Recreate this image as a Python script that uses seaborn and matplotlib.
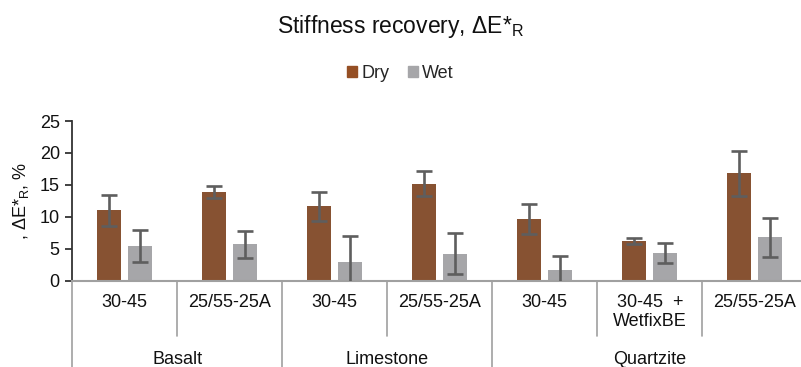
"""Stiffness recovery (dE*_R) for dry and wet specimens, grouped by aggregate type."""

import matplotlib.pyplot as plt
import matplotlib.transforms as mtransforms
import pandas as pd
import seaborn as sns

GROUPS = ["Basalt", "Basalt", "Limestone", "Limestone", "Quartzite", "Quartzite", "Quartzite"]
MIXES = ["30-45", "25/55-25A", "30-45", "25/55-25A", "30-45", "30-45  +\nWetfixBE", "25/55-25A"]
DRY_MEAN = [11.0, 13.9, 11.6, 15.2, 9.6, 6.2, 16.8]
DRY_ERR = [2.4, 0.95, 2.3, 2.0, 2.35, 0.45, 3.5]
WET_MEAN = [5.4, 5.7, 2.9, 4.2, 1.6, 4.3, 6.8]
WET_ERR = [2.5, 2.1, 4.1, 3.25, 2.2, 1.5, 3.05]
CONDITIONS = ["Dry", "Wet"]

COLORS = {"Dry": "#954F24", "Wet": "#A6A6A9"}
ERR_COLOR = "#5E5E5E"
SEP_COLOR = "#A0A0A0"
TEXT_COLOR = "#111111"
FONT_SIZE = 13


def build_frame():
    keys = [f"{g}|{m}" for g, m in zip(GROUPS, MIXES)]
    rows = []
    for cond, means in zip(CONDITIONS, [DRY_MEAN, WET_MEAN]):
        for k, v in zip(keys, means):
            rows.append({"key": k, "condition": cond, "value": v})
    return pd.DataFrame(rows), keys


def main():
    sns.set_theme(style="white")
    plt.rcParams["font.family"] = ["Liberation Sans", "DejaVu Sans"]
    plt.rcParams["mathtext.fontset"] = "custom"
    plt.rcParams["mathtext.rm"] = "Liberation Sans"

    df, keys = build_frame()

    W, H = 801, 367
    fig = plt.figure(figsize=(W / 100, H / 100), dpi=100)
    left, right, top, bottom = 72.3, 807.3, 121.0, 280.5
    ax = fig.add_axes([left / W, (H - bottom) / H, (right - left) / W, (bottom - top) / H])

    sns.barplot(
        data=df, x="key", y="value", hue="condition", order=keys, hue_order=CONDITIONS,
        palette=COLORS, width=0.59, gap=0.22, errorbar=None, legend=False, linewidth=0, ax=ax,
    )

    # error bars on top of each bar, one container per condition
    for container, errs in zip(ax.containers, [DRY_ERR, WET_ERR]):
        for bar, e in zip(container, errs):
            ax.errorbar(
                bar.get_x() + bar.get_width() / 2, bar.get_height(), yerr=e,
                fmt="none", ecolor=ERR_COLOR, elinewidth=1.9, capsize=5.8, capthick=1.9, zorder=3,
            )

    ax.set_ylim(0, 25)
    ax.set_yticks([0, 5, 10, 15, 20, 25])
    ax.set_xlim(-0.5, len(keys) - 0.5)
    ax.set_xticks([])
    ax.set_xlabel("")
    ax.set_ylabel(", ΔE*$_\\mathregular{R}$, %", fontsize=FONT_SIZE, labelpad=6, color=TEXT_COLOR)

    for side in ["top", "right"]:
        ax.spines[side].set_visible(False)
    ax.spines["left"].set_color("#333333")
    ax.spines["left"].set_linewidth(1.3)
    ax.spines["bottom"].set_color(SEP_COLOR)
    ax.spines["bottom"].set_linewidth(1.5)
    ax.tick_params(axis="y", left=True, length=5, width=1.3, color="#333333",
                   labelsize=FONT_SIZE, labelcolor=TEXT_COLOR, pad=4)

    # multi-level category axis drawn below the plot
    trans = mtransforms.blended_transform_factory(ax.transData, ax.transAxes)
    ax_h = bottom - top
    inner_end = -(336 - bottom) / ax_h
    outer_end = -(H + 5 - bottom) / ax_h
    row1_y = -(294 - bottom) / ax_h
    group_y = -(359 - bottom) / ax_h

    for i, mix in enumerate(MIXES):
        ax.text(i, row1_y, mix, transform=trans, ha="center", va="top",
                fontsize=FONT_SIZE, color=TEXT_COLOR, linespacing=1.15)

    for i in range(len(keys) + 1):
        x = i - 0.5
        new_group = i == 0 or i == len(keys) or GROUPS[i] != GROUPS[i - 1]
        y_end = outer_end if new_group else inner_end
        ax.plot([x, x], [0, y_end], transform=trans, color=SEP_COLOR, lw=1.2, clip_on=False)

    seen = []
    for g in GROUPS:
        if g not in seen:
            seen.append(g)
    for g in seen:
        idx = [i for i, gg in enumerate(GROUPS) if gg == g]
        ax.text((idx[0] + idx[-1]) / 2, group_y, g, transform=trans, ha="center", va="center",
                fontsize=FONT_SIZE, color=TEXT_COLOR)

    fig.text(0.5, 1 - 27 / H, "Stiffness recovery, ΔE*$_\\mathregular{R}$", ha="center", va="center",
             fontsize=16.5, color=TEXT_COLOR)

    handles = [plt.Rectangle((0, 0), 1, 1, color=COLORS[c]) for c in CONDITIONS]
    fig.legend(handles, CONDITIONS, loc="center", bbox_to_anchor=(0.5, 1 - 73 / H), ncol=2,
               frameon=False, fontsize=FONT_SIZE, handlelength=0.55, handleheight=0.55,
               handletextpad=0.25, columnspacing=1.0)

    fig.savefig("out.png", dpi=100)
    plt.close(fig)


if __name__ == "__main__":
    main()
